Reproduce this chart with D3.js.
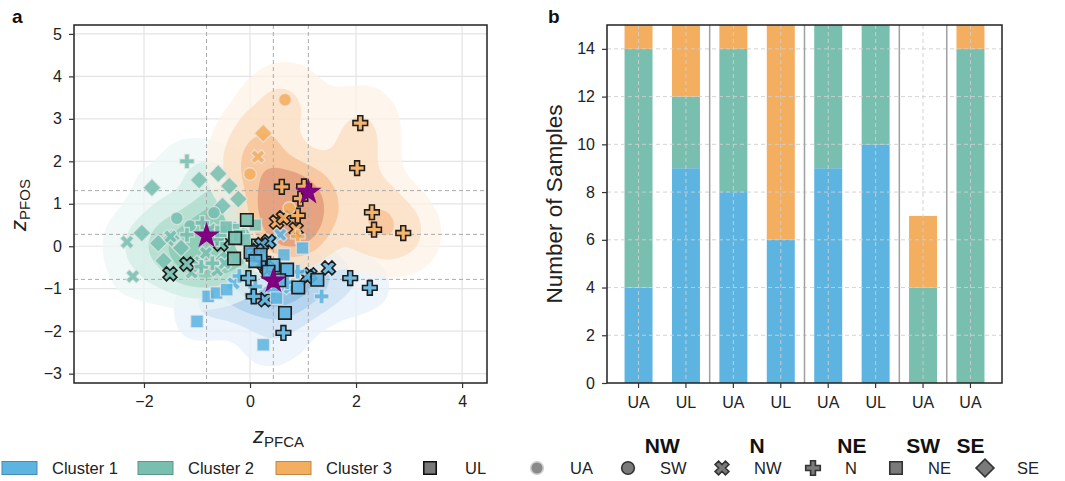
<!DOCTYPE html>
<html><head><meta charset="utf-8">
<script src="https://cdn.jsdelivr.net/npm/d3@7"></script>
<style>
body{margin:0;background:#fff;}
svg{display:block;font-family:"Liberation Sans",Arial,Helvetica,sans-serif;}
</style></head><body>
<svg id="chart" width="1065" height="481"></svg>
<script>
// ---------------- data ----------------
const clusterNames = ["Cluster 1", "Cluster 2", "Cluster 3"];

// samples per cluster: [region, sampler type, zPFCA, zPFOS]
const cluster1Points = [
  ["NW","UA",-0.31,-0.87],["NW","UA",0.57,0.27],["NW","UA",0.75,-0.98],["NW","UA",0.40,0.12],
  ["NW","UL",0.35,0.11],["NW","UL",0.22,0.04],["NW","UL",0.13,-0.10],["NW","UL",0.25,-0.40],["NW","UL",0.32,-0.52],
  ["NW","UL",1.13,-0.67],["NW","UL",1.48,-0.51],["NW","UL",0.28,-1.26],["NW","UL",1.08,-0.72],
  ["N","UA",1.35,-1.18],["N","UA",0.03,-1.14],["N","UA",0.55,-0.50],["N","UA",-0.20,-0.70],
  ["N","UA",0.70,-0.85],["N","UA",0.10,-0.95],["N","UA",0.90,-0.60],["N","UA",0.45,-1.05],
  ["N","UL",0.63,-2.04],["N","UL",1.89,-0.75],["N","UL",2.26,-0.98],["N","UL",-0.03,-0.75],["N","UL",0.07,-1.18],["N","UL",0.25,-0.30],
  ["NE","UA",0.99,-0.04],["NE","UA",0.64,-0.20],["NE","UA",-1.00,-1.77],["NE","UA",0.25,-2.32],["NE","UA",-0.79,-1.18],
  ["NE","UA",-0.63,-1.10],["NE","UA",-0.44,-1.02],["NE","UA",0.50,-1.22],["NE","UA",0.72,-0.56],
  ["NE","UL",0.70,-0.55],["NE","UL",0.66,-1.57],["NE","UL",0.91,-0.97],["NE","UL",1.27,-0.79],["NE","UL",0.44,-0.45],
  ["NE","UL",0.01,-0.14],["NE","UL",0.20,-0.20],["NE","UL",0.10,-0.35],["NE","UL",0.35,-0.60],["NE","UL",0.55,-0.80]
];
const cluster2Points = [
  ["SE","UA",-1.85,1.38],["SE","UA",-0.96,1.56],["SE","UA",-0.60,1.71],["SE","UA",-0.39,1.42],["SE","UA",-0.22,1.11],
  ["SE","UA",-0.52,0.95],["SE","UA",-2.04,0.31],["SE","UA",-1.73,0.07],["SE","UA",-1.63,-0.34],["SE","UA",-1.30,-0.04],
  ["SE","UA",-1.00,-0.42],["SE","UA",-0.50,-0.30],["SE","UA",-0.47,0.10],["SE","UA",-1.48,0.19],
  ["SW","UA",-1.38,0.66],["SW","UA",-1.13,0.48],["SW","UA",-0.68,0.79],["SW","UA",-0.12,0.29],
  ["NW","UA",-2.32,0.10],["NW","UA",-2.21,-0.71],["NW","UA",-1.50,0.23],["NW","UA",-1.10,-0.62],["NW","UA",-0.97,-0.47],
  ["NW","UA",-0.83,-0.16],["NW","UA",-0.62,-0.57],["NW","UA",-0.48,-0.40],["NW","UA",-0.75,0.40],["NW","UA",-0.35,0.45],
  ["NW","UL",-1.51,-0.65],["NW","UL",-1.19,-0.42],["NW","UL",-0.55,0.05],
  ["N","UA",-1.19,2.00],["N","UA",-1.19,0.27],["N","UA",-0.62,0.17],["N","UA",-0.92,-0.48],["N","UA",-0.71,-0.40],["N","UA",-0.90,0.55],
  ["NE","UA",-0.31,0.39],["NE","UA",-0.55,0.35],["NE","UA",-0.20,0.25],["NE","UA",-0.45,0.45],["NE","UA",0.10,0.50],["NE","UA",-0.10,0.15],
  ["NE","UL",-0.06,0.62],["NE","UL",-0.30,-0.29],["NE","UL",-0.28,0.19],["NE","UL",0.15,0.02],["NE","UL",0.05,-0.20]
];
const cluster3Points = [
  ["NW","UA",0.15,2.11],
  ["NW","UL",0.50,0.57],["NW","UL",0.63,0.67],["NW","UL",0.87,0.40],
  ["N","UA",0.90,0.23],
  ["N","UL",2.08,2.90],["N","UL",2.02,1.84],["N","UL",0.60,1.40],["N","UL",0.95,1.12],["N","UL",2.30,0.80],
  ["N","UL",2.34,0.39],["N","UL",2.89,0.31],["N","UL",0.90,0.72],["N","UL",1.02,1.41],
  ["SW","UA",0.66,3.45],["SW","UA",0.00,1.70],["SW","UA",0.74,0.90],
  ["SE","UA",0.25,2.66]
];
// cluster centroids (cluster 1, 2, 3)
const centroidPFCA = [0.44, -0.82, 1.10];
const centroidPFOS = [-0.78, 0.28, 1.31];
const xTicksA = [-2, 0, 2, 4];
const yTicksA = [-3, -2, -1, 0, 1, 2, 3, 4, 5];

// sample counts per region / sampler type
const barTypes   = ["UA","UL","UA","UL","UA","UL","UA","UA"];
const barRegions = ["NW","NW","N","N","NE","NE","SW","SE"];
const countsCluster1 = [4, 9, 8, 6, 9, 10, 0, 0];
const countsCluster2 = [10, 3, 6, 0, 6, 5, 4, 14];
const countsCluster3 = [1, 3, 1, 9, 0, 0, 3, 1];
const yTicksB = [0, 2, 4, 6, 8, 10, 12, 14];

const legendShapes = ["SW","NW","N","NE","SE"];

// ---------------- styles ----------------
const colors = ["#5DB4E0", "#78BFB0", "#F4AE5F"];
const kdeRamps = [
  ["#E6F0F9","#CBE1F3","#A9CEEC","#86BBE3"],
  ["#EBF6F5","#CFEBE3","#A9DAC8","#80C6AD"],
  ["#FDF1E4","#FBDCBE","#F6BF90","#DF9474"]
];
const kdeBandwidth = [20, 19, 23];
const kdeFractions = [0.045, 0.15, 0.32, 0.52];

const svg = d3.select("#chart");
const FONT = 16;

// ---------------- panel a: scatter with density ----------------
const A = {left: 74, right: 487, top: 25, bottom: 383};
const xA = d3.scaleLinear().domain([-3.32, 4.47]).range([A.left, A.right]);
const yA = d3.scaleLinear().domain([-3.22, 5.21]).range([A.bottom, A.top]);

svg.append("clipPath").attr("id", "clipA").append("rect")
  .attr("x", A.left).attr("y", A.top).attr("width", A.right - A.left).attr("height", A.bottom - A.top);

const gA = svg.append("g").attr("clip-path", "url(#clipA)");

// major grid
gA.append("g").selectAll("line").data(xTicksA).join("line")
  .attr("x1", d => xA(d)).attr("x2", d => xA(d)).attr("y1", A.top).attr("y2", A.bottom)
  .attr("stroke", "#e4e4e4").attr("stroke-width", 1.2);
gA.append("g").selectAll("line").data(yTicksA).join("line")
  .attr("y1", d => yA(d)).attr("y2", d => yA(d)).attr("x1", A.left).attr("x2", A.right)
  .attr("stroke", "#e4e4e4").attr("stroke-width", 1.2);

// density contours
const allClusters = [cluster1Points, cluster2Points, cluster3Points];
function densityLevels(points, bw) {
  const gen = d3.contourDensity()
    .x(d => xA(d[2]) - A.left).y(d => yA(d[3]) - A.top)
    .size([A.right - A.left, A.bottom - A.top])
    .cellSize(2).bandwidth(bw);
  if (typeof gen.contours === "function") {
    const c = gen.contours(points);
    return kdeFractions.map(f => c(f * c.max));
  }
  const all = gen.thresholds(120)(points);
  const maxV = d3.max(all, c => c.value);
  return kdeFractions.map(f => all[d3.minIndex(all, c => Math.abs(c.value - f * maxV))]);
}
const geoPath = d3.geoPath();
allClusters.forEach((pts, ci) => {
  const levels = densityLevels(pts, kdeBandwidth[ci]);
  gA.append("g").attr("transform", `translate(${A.left},${A.top})`)
    .selectAll("path").data(levels).join("path")
    .attr("d", geoPath)
    .attr("fill", (d, i) => kdeRamps[ci][i])
    .attr("fill-opacity", 0.72);
});

// centroid guide lines
gA.append("g").selectAll("line").data(centroidPFCA).join("line")
  .attr("x1", d => xA(d)).attr("x2", d => xA(d)).attr("y1", A.top).attr("y2", A.bottom)
  .attr("stroke", "#aaa").attr("stroke-width", 1).attr("stroke-dasharray", "4,3");
gA.append("g").selectAll("line").data(centroidPFOS).join("line")
  .attr("y1", d => yA(d)).attr("y2", d => yA(d)).attr("x1", A.left).attr("x2", A.right)
  .attr("stroke", "#aaa").attr("stroke-width", 1).attr("stroke-dasharray", "4,3");

// marker shapes by region
const shapePath = {
  SW: d3.symbol(d3.symbolCircle, 125)(),
  NW: d3.symbol(d3.symbolCross, 120)(),
  N:  d3.symbol(d3.symbolCross, 118)(),
  NE: d3.symbol(d3.symbolSquare, 155)(),
  SE: d3.symbol(d3.symbolSquare, 160)()
};
const shapeRotate = {SW: 0, NW: 45, N: 0, NE: 0, SE: 45};

function drawMarkers(g, pts, color) {
  g.selectAll(null).data(pts).join("path")
    .attr("d", d => shapePath[d[0]])
    .attr("transform", d => `translate(${xA(d[2])},${yA(d[3])}) rotate(${shapeRotate[d[0]]})`)
    .attr("fill", color).attr("fill-opacity", 0.88)
    .attr("stroke", d => d[1] === "UL" ? "#1e1e1e" : "#e8e8e8")
    .attr("stroke-opacity", d => d[1] === "UL" ? 1 : 0.7)
    .attr("stroke-width", d => d[1] === "UL" ? 1.6 : 1.3);
}
const gPts = gA.append("g");
[1, 2, 0].forEach(ci => drawMarkers(gPts.append("g"), allClusters[ci], colors[ci]));

// centroid stars
gA.append("g").selectAll("path").data(centroidPFCA).join("path")
  .attr("d", d3.symbol(d3.symbolStar, 220)())
  .attr("transform", (d, i) => `translate(${xA(d)},${yA(centroidPFOS[i]) + 1.5})`)
  .attr("fill", "#800080");

// frame and axes
svg.append("rect").attr("x", A.left).attr("y", A.top)
  .attr("width", A.right - A.left).attr("height", A.bottom - A.top)
  .attr("fill", "none").attr("stroke", "#222").attr("stroke-width", 1.5);

function styleAxis(g) {
  g.select(".domain").remove();
  g.selectAll(".tick line").attr("stroke", "#333").attr("stroke-width", 1.2);
  g.selectAll(".tick text").attr("fill", "#222").attr("font-size", FONT)
    .attr("font-family", '"Liberation Sans",Arial,sans-serif');
}
svg.append("g").attr("transform", `translate(0,${A.bottom})`)
  .call(d3.axisBottom(xA).tickValues(xTicksA).tickSize(5).tickPadding(8).tickFormat(d3.format("d")))
  .call(styleAxis);
svg.append("g").attr("transform", `translate(${A.left},0)`)
  .call(d3.axisLeft(yA).tickValues(yTicksA).tickSize(5).tickPadding(7).tickFormat(d3.format("d")))
  .call(styleAxis);

// axis titles
const xt = svg.append("text").attr("x", (A.left + A.right) / 2 - 2).attr("y", 443)
  .attr("text-anchor", "middle").attr("fill", "#222");
xt.append("tspan").text("z").attr("font-size", 22).attr("font-style", "italic");
xt.append("tspan").text("PFCA").attr("font-size", 15).attr("dy", 4);
const yt = svg.append("text").attr("transform", `translate(26,${(A.top + A.bottom) / 2 + 1}) rotate(-90)`)
  .attr("text-anchor", "middle").attr("fill", "#222");
yt.append("tspan").text("z").attr("font-size", 22).attr("font-style", "italic");
yt.append("tspan").text("PFOS").attr("font-size", 15).attr("dy", 4);

svg.append("text").attr("x", 12).attr("y", 23).text("a")
  .attr("font-size", 19).attr("font-weight", "bold").attr("fill", "#111");

// ---------------- panel b: stacked counts ----------------
const B = {left: 607, right: 1002, top: 25, bottom: 383};
const idx = d3.range(barTypes.length);
const xB = d3.scaleBand().domain(idx).range([B.left, B.right]).paddingInner(0.41).paddingOuter(0.37);
const yB = d3.scaleLinear().domain([0, 15]).range([B.bottom, B.top]);

svg.append("clipPath").attr("id", "clipB").append("rect")
  .attr("x", B.left).attr("y", B.top).attr("width", B.right - B.left).attr("height", B.bottom - B.top);
const gB = svg.append("g").attr("clip-path", "url(#clipB)");

const table = idx.map(i => ({i, c1: countsCluster1[i], c2: countsCluster2[i], c3: countsCluster3[i]}));
const series = d3.stack().keys(["c1", "c2", "c3"])(table);
gB.selectAll("g.layer").data(series).join("g").attr("class", "layer")
  .attr("fill", (d, k) => colors[k])
  .selectAll("rect").data(d => d).join("rect")
  .attr("x", d => xB(d.data.i)).attr("width", xB.bandwidth())
  .attr("y", d => yB(d[1])).attr("height", d => yB(d[0]) - yB(d[1]));

// dashed grid above bars
gB.append("g").selectAll("line").data(yTicksB.slice(1)).join("line")
  .attr("x1", B.left).attr("x2", B.right).attr("y1", d => yB(d)).attr("y2", d => yB(d))
  .attr("stroke", "#cfcfcf").attr("stroke-width", 1).attr("stroke-dasharray", "4,3").attr("stroke-opacity", 0.9);
gB.append("g").selectAll("line").data(idx).join("line")
  .attr("x1", d => xB(d) + xB.bandwidth() / 2).attr("x2", d => xB(d) + xB.bandwidth() / 2)
  .attr("y1", B.top).attr("y2", B.bottom)
  .attr("stroke", "#cfcfcf").attr("stroke-width", 1).attr("stroke-dasharray", "4,3").attr("stroke-opacity", 0.9);

// region separators
const sepIdx = idx.slice(1).filter(i => barRegions[i] !== barRegions[i - 1]);
gB.append("g").selectAll("line").data(sepIdx).join("line")
  .attr("x1", i => (xB(i - 1) + xB.bandwidth() + xB(i)) / 2).attr("x2", i => (xB(i - 1) + xB.bandwidth() + xB(i)) / 2)
  .attr("y1", B.top).attr("y2", B.bottom)
  .attr("stroke", "#a0a0a0").attr("stroke-width", 1.5);

svg.append("rect").attr("x", B.left).attr("y", B.top)
  .attr("width", B.right - B.left).attr("height", B.bottom - B.top)
  .attr("fill", "none").attr("stroke", "#222").attr("stroke-width", 1.5);

svg.append("g").attr("transform", `translate(0,${B.bottom})`)
  .call(d3.axisBottom(xB).tickSize(5).tickPadding(9).tickFormat(i => barTypes[i]))
  .call(styleAxis);
svg.append("g").attr("transform", `translate(${B.left},0)`)
  .call(d3.axisLeft(yB).tickValues(yTicksB).tickSize(5).tickPadding(7))
  .call(styleAxis);

svg.append("text").attr("transform", `translate(562,${(B.top + B.bottom) / 2}) rotate(-90)`)
  .attr("text-anchor", "middle").attr("font-size", 22.5).attr("fill", "#222")
  .text("Number of Samples");
svg.append("text").attr("x", 548).attr("y", 23).text("b")
  .attr("font-size", 19).attr("font-weight", "bold").attr("fill", "#111");

// region group labels under the bars
const regionOrder = Array.from(new Set(barRegions));
svg.append("g").selectAll("text").data(regionOrder).join("text")
  .attr("x", r => d3.mean(idx.filter(i => barRegions[i] === r), i => xB(i) + xB.bandwidth() / 2))
  .attr("y", 453).attr("text-anchor", "middle")
  .attr("font-size", 21).attr("font-weight", "bold").attr("fill", "#111")
  .text(r => r);

// ---------------- legend ----------------
const gL = svg.append("g").attr("font-size", 16.5).attr("fill", "#222");
const patchX = [2, 138, 276];
clusterNames.forEach((name, k) => {
  gL.append("rect").attr("x", patchX[k]).attr("y", 461.5).attr("width", 35).attr("height", 13)
    .attr("fill", colors[k]).attr("stroke", d3.color(colors[k]).darker(0.7)).attr("stroke-width", 1);
  gL.append("text").attr("x", patchX[k] + 50).attr("y", 474).text(name);
});
// sampler types
gL.append("path").attr("d", shapePath.NE).attr("transform", "translate(430,468)")
  .attr("fill", "#7a7a7a").attr("stroke", "#111").attr("stroke-width", 1.6);
gL.append("text").attr("x", 465).attr("y", 474).text("UL");
gL.append("path").attr("d", shapePath.SW).attr("transform", "translate(537,468)")
  .attr("fill", "#8a8a8a").attr("stroke", "#cfcfcf").attr("stroke-width", 1.6);
gL.append("text").attr("x", 570).attr("y", 474).text("UA");
// regions
const legendShapeX = [628, 722, 813, 896, 985];
legendShapes.forEach((r, k) => {
  gL.append("path").attr("d", shapePath[r])
    .attr("transform", `translate(${legendShapeX[k]},468) rotate(${shapeRotate[r]})`)
    .attr("fill", "#7a7a7a").attr("stroke", "#333").attr("stroke-width", 1.6);
  gL.append("text").attr("x", legendShapeX[k] + 32).attr("y", 474).text(r);
});
</script>
</body></html>
